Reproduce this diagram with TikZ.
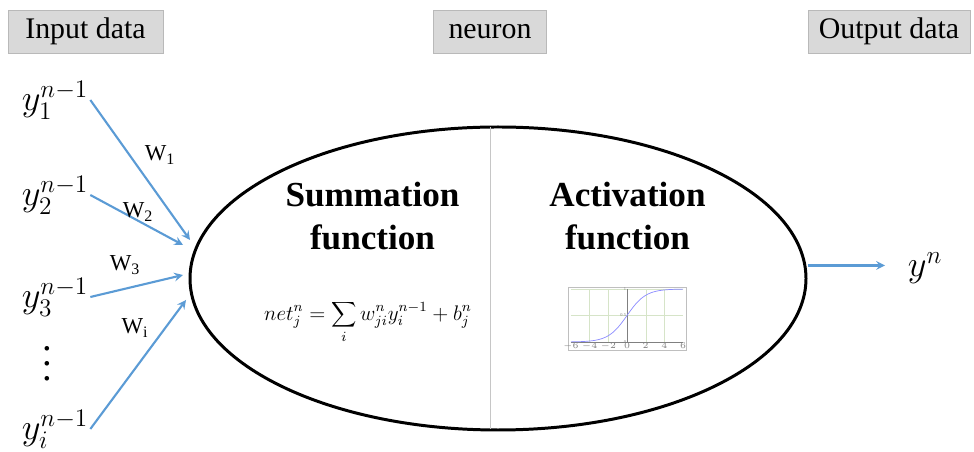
\documentclass[tikz,border=0pt]{standalone}
\usepackage{fontspec}
\setmainfont{Liberation Serif}
\usetikzlibrary{shapes.geometric}
\definecolor{linkblue}{HTML}{5B9BD5}
\definecolor{taggray}{HTML}{D9D9D9}
\definecolor{gridgreen}{HTML}{D6E4C8}

\begin{document}
\begin{tikzpicture}[
    tag/.style={
        draw=gray!55,
        fill=taggray,
        minimum height=0.86cm,
        inner sep=0pt,
        font=\fontsize{17}{20}\selectfont
    },
    title/.style={align=center, font=\bfseries\fontsize{20}{24}\selectfont},
    invar/.style={inner sep=1pt, font=\fontsize{22}{26}\selectfont},
    weight/.style={inner sep=1pt, font=\fontsize{13}{15}\selectfont},
    tick/.style={inner sep=0.4pt, font=\fontsize{2.5}{3}\selectfont, text=gray},
    link/.style={->, >=stealth, line width=1.2pt, draw=linkblue}
]
\useasboundingbox (0,0) rectangle (19.48,9.04);

% Riga 0: intestazioni
\node[tag, minimum width=3.1cm] (input) at (1.71, 8.41) {Input data};
\node[tag, minimum width=2.26cm] (neuronlbl) at (9.8, 8.41) {neuron};
\node[tag, minimum width=3.24cm] (output) at (17.78, 8.41) {Output data};

% Corpo del neurone
\node[draw, ellipse, line width=1.7pt, minimum width=12.32cm,
      minimum height=6.06cm, inner sep=0pt] (neuron) at (9.96, 3.47) {};
\draw[gray!45, line width=0.5pt] (9.8, 6.49) -- (9.8, 0.45);

\node[title] (sum) at (7.45, 4.72) {Summation\\function};
\node[title] (act) at (12.55, 4.72) {Activation\\function};

\node[font=\fontsize{11.5}{13}\selectfont] (netfn) at (7.36, 2.6)
    {$\displaystyle net_j^n = \sum_i w_{ji}^n y_i^{n-1} + b_j^n$};

% Sigmoide
\begin{scope}[shift={(12.54, 2.2)}, x=0.187cm, y=1.06cm]
  \draw[gray!50, fill=white] (-6.3,-0.15) rectangle (6.4,1.04);
  \foreach \gx in {-4,-2,2,4}
    \draw[gridgreen, very thin] (\gx,0) -- (\gx,1);
  \draw[gridgreen, very thin] (-6,0.5) -- (6,0.5);
  \draw[gridgreen, very thin] (-6,1) -- (6,1);
  \draw[gray, thin] (-6,0) -- (6,0);
  \draw[gray, thin] (0,0) -- (0,1);
  \draw[blue!45, thin, domain=-6:6, samples=60] plot (\x, {1/(1+exp(-\x))});
  \foreach \tx in {-6,-4,-2,0,2,4,6}
    \node[tick, below] (tx\tx) at (\tx,0) {$\tx$};
  \node[tick, left] (ty0) at (0,0) {0};
  \node[tick, left] (ty5) at (0,0.5) {0.5};
  \node[tick, left] (ty1) at (0,1) {1};
\end{scope}

% Ingressi
\node[invar] (y1) at (1.1, 7.04) {$y_1^{n-1}$};
\node[invar] (y2) at (1.1, 5.14) {$y_2^{n-1}$};
\node[invar] (y3) at (1.1, 3.1) {$y_3^{n-1}$};
\node[inner sep=0pt, align=center, font=\fontsize{22}{8.5}\selectfont] (ydots) at (0.94, 1.76) {.\\.\\.};
\node[invar] (yi) at (1.1, 0.46) {$y_i^{n-1}$};

\coordinate (tip1) at (3.8, 4.24);
\coordinate (tip2) at (3.66, 4.14);
\coordinate (tip3) at (3.66, 3.54);
\coordinate (tipi) at (3.72, 3.04);

% === FRECCE ===
\draw[link] (y1.east) -- (tip1);
\draw[link] (y2.east) -- (tip2);
\draw[link] (y3.east) -- (tip3);
\draw[link] (yi.east) -- (tipi);

\node[weight] (w1) at (3.2, 5.94) {W\textsubscript{1}};
\node[weight] (w2) at (2.76, 4.8) {W\textsubscript{2}};
\node[weight] (w3) at (2.5, 3.74) {W\textsubscript{3}};
\node[weight] (wi) at (2.7, 2.48) {W\textsubscript{i}};

% Uscita
\node[invar] (yn) at (18.5, 3.68) {$y^n$};
\coordinate (outtip) at (17.7, 3.73);
\draw[link] ([yshift=0.26cm]neuron.east) -- (outtip);

\end{tikzpicture}
\end{document}
